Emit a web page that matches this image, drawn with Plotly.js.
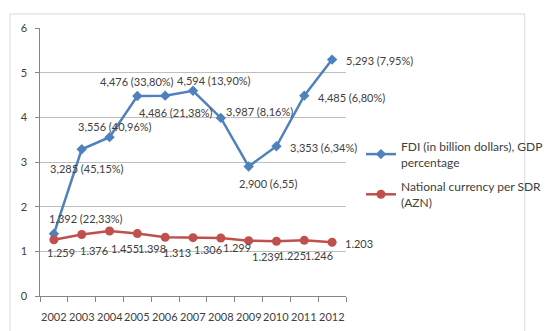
<!DOCTYPE html>
<html><head><meta charset="utf-8">
<script src="https://cdn.plot.ly/plotly-3.0.1.min.js"></script>
<style>html,body{margin:0;padding:0;background:#fff}#chart{width:560px;height:331px}</style>
</head><body><div id="chart"></div>
<script>
const years = ["2002","2003","2004","2005","2006","2007","2008","2009","2010","2011","2012"];
const fdi = [1.392, 3.285, 3.556, 4.476, 4.486, 4.594, 3.987, 2.900, 3.353, 4.485, 5.293];
const fdiLabels = ["1,392 (22,33%)","3,285 (45,15%)","3,556 (40,96%)","4,476 (33,80%)","4,486 (21,38%)","4,594 (13,90%)","3,987 (8,16%)","2,900 (6,55)","3,353 (6,34%)","4,485 (6,80%)","5,293 (7,95%)"];
const azn = [1.259, 1.376, 1.455, 1.398, 1.313, 1.306, 1.299, 1.239, 1.225, 1.246, 1.203];
const aznLabels = ["1.259","1.376","1.455","1.398","1.313","1.306","1.299","1.239","1.225","1.246","1.203"];
const fdiName = "FDI (in billion dollars), GDP<br>percentage";
const aznName = "National currency per SDR<br>(AZN)";

// label placement (pixel offsets from the point)
const fdiOff = [[32,15,'center'],[5,-19,'center'],[5,11,'center'],[0,15,'center'],[11,-17,'center'],[21,10,'center'],[3,6,'left'],[19,-17,'center'],[12,-1,'left'],[12,-2,'left'],[12,-1,'left']];
const aznOff = [[7,-13,'center'],[12,-16,'center'],[15,-17,'center'],[15,-15,'center'],[12,-15,'center'],[15,-12,'center'],[16,-10,'center'],[17,-16,'center'],[16,-14,'center'],[15,-15,'center'],[11,-1,'left']];

const BLUE = '#4F81BD', RED = '#C0504D', TXT = '#404040';
const F = 'Lato, "Open Sans", sans-serif';

const traces = [
  {x: years, y: fdi, name: fdiName, legendgroup: 'fdi', type: 'scatter', mode: 'lines+markers',
   line: {color: BLUE, width: 2.5}, marker: {symbol: 'diamond', size: 8, color: BLUE}},
  {x: years, y: azn, name: aznName, legendgroup: 'azn', type: 'scatter', mode: 'lines+markers',
   line: {color: RED, width: 2.5}, marker: {symbol: 'circle', size: 9, color: RED}}
];

const ann = [];
years.forEach((yr, i) => {
  ann.push({x: i, y: fdi[i], xref: 'x', yref: 'y', text: fdiLabels[i], showarrow: false,
    xanchor: fdiOff[i][2], yanchor: 'middle', xshift: fdiOff[i][0], yshift: fdiOff[i][1],
    font: {family: F, size: 11, color: TXT}});
  ann.push({x: i, y: azn[i], xref: 'x', yref: 'y', text: aznLabels[i], showarrow: false,
    xanchor: aznOff[i][2], yanchor: 'middle', xshift: aznOff[i][0], yshift: aznOff[i][1],
    font: {family: F, size: 11, color: TXT}});
  // category (year) labels under the axis
  ann.push({x: i, y: 0, xref: 'x', yref: 'paper', text: yr, showarrow: false,
    xanchor: 'center', yanchor: 'middle', yshift: -20,
    font: {family: F, size: 11, color: TXT}});
});

const L = 40, R = 193, T = 28, B = 35, W = 560, H = 331;
const pw = W - L - R, ph = H - T - B;
const px = v => (v - L) / pw, py = v => (H - B - v) / ph;

const layout = {
  width: W, height: H,
  margin: {l: L, r: R, t: T, b: B, pad: 0},
  paper_bgcolor: '#fff', plot_bgcolor: '#fff',
  font: {family: F, size: 11, color: TXT},
  showlegend: true,
  legend: {x: px(383), y: py(132), xanchor: 'left', yanchor: 'top', bgcolor: 'rgba(0,0,0,0)',
    traceorder: 'grouped',
    font: {family: F, size: 12, color: TXT}, tracegroupgap: 6, itemwidth: 30},
  xaxis: {type: 'category', range: [-0.5, years.length - 0.5], autorange: false, showgrid: false,
    showline: true, linecolor: '#868686', linewidth: 1,
    ticks: 'outside', tickson: 'boundaries', ticklen: 5, tickcolor: '#868686',
    showticklabels: false, zeroline: false, fixedrange: true},
  yaxis: {range: [0, 6], autorange: false, dtick: 1, showgrid: true, gridcolor: '#BFBFBF', gridwidth: 1,
    showline: true, linecolor: '#868686', linewidth: 1, ticks: 'outside', ticklen: 4, tickcolor: '#868686',
    ticksuffix: '  ',
    tickfont: {family: F, size: 11, color: TXT}, zeroline: false, fixedrange: true},
  annotations: ann,
  shapes: [{type: 'rect', xref: 'paper', yref: 'paper', x0: px(8), x1: px(558), y0: py(340), y1: py(14),
    line: {color: '#D9D9D9', width: 1}, fillcolor: 'rgba(0,0,0,0)', layer: 'below'}]
};

Plotly.newPlot('chart', traces, layout, {displayModeBar: false, staticPlot: true});
</script></body></html>
